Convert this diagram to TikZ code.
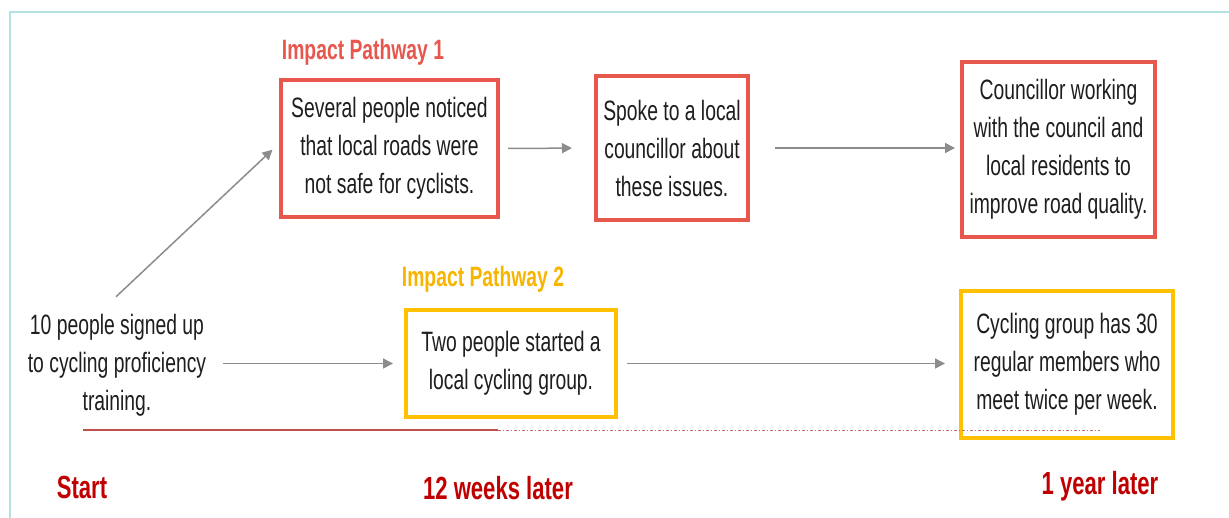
\documentclass[tikz,border=0pt]{standalone}
\usepackage{fontspec}
\setmainfont{Liberation Sans}[FakeStretch=0.69]
\usetikzlibrary{arrows.meta}
\definecolor{framecol}{HTML}{B4E1E1}
\definecolor{pathred}{HTML}{E8574D}
\definecolor{pathyellow}{HTML}{FFC000}
\definecolor{labyellow}{HTML}{F7B500}
\definecolor{darkred}{HTML}{C00000}
\definecolor{lined}{HTML}{C0504D}
\definecolor{arrgray}{HTML}{8C8C8C}
\definecolor{txt}{HTML}{1E1E1E}
\tikzset{
  body/.style={font=\fontsize{28}{38}\selectfont, text=txt, align=center, inner sep=0pt},
  redbox/.style={body, draw=pathred, line width=4pt},
  yellowbox/.style={body, draw=pathyellow, line width=4pt},
  pathlabel/.style={font=\bfseries\fontsize{28}{34}\selectfont, inner sep=0pt},
  timelabel/.style={font=\bfseries\fontsize{32}{38}\selectfont, text=darkred, inner sep=0pt},
  arr/.style={draw=arrgray, line width=1.5pt, -{Triangle[length=10pt,width=10pt]}},
}
\begin{document}
\begin{tikzpicture}[x=1pt,y=-1pt]
\useasboundingbox (0,0) rectangle (1229,517);
\clip (0,0) rectangle (1229,517);
\fill[white] (0,0) rectangle (1229,517);
% frame
\draw[framecol, line width=2pt] (10,12) rectangle (1260,560);

% pathway labels
\node[pathlabel, text=pathred] (lab1) at (363,52) {Impact Pathway 1};
\node[pathlabel, text=labyellow] (lab2) at (483,279) {Impact Pathway 2};

% boxes
\node[redbox, minimum width=217pt, minimum height=137pt] (b1) at (389.5,148.5)
  {Several people noticed\\that local roads were\\not safe for cyclists.};
\node[redbox, minimum width=152pt, minimum height=144pt] (b2) at (672,148)
  {Spoke to a local\\councillor about\\these issues.};
\node[redbox, minimum width=193pt, minimum height=175pt] (b3) at (1058.5,149.5)
  {Councillor working\\with the council and\\local residents to\\improve road quality.};
\node[yellowbox, minimum width=210pt, minimum height=107pt] (b4) at (511,363.5)
  {Two people started a\\local cycling group.};
\node[yellowbox, minimum width=212pt, minimum height=147pt] (b5) at (1067,364.5)
  {Cycling group has 30\\regular members who\\meet twice per week.};

% starting point
\node[body] (start) at (117,365)
  {10 people signed up\\to cycling proficiency\\training.};

% connectors
\draw[arr, shorten >=9pt] ([xshift=-1pt,yshift=17pt]start.north) -- ([yshift=5pt]b1.west);
\draw[arr, shorten <=8pt, shorten >=22pt] (b1.east) -- (b2.west);
\draw[arr, shorten <=25pt, shorten >=5pt] (b2.east) -- (b2.east -| b3.west);
\draw[arr, shorten <=17pt, shorten >=11pt] (start.east |- b4.west) -- (b4.west);
\draw[arr, shorten <=9pt, shorten >=14pt] (b4.east) -- (b4.east -| b5.west);

% timeline
\coordinate (t0) at (83,430);
\coordinate (t1) at (498,430);
\coordinate (t2) at (1100,430);
\draw[lined, line width=1.8pt] (t0) -- (t1);
\draw[lined!85, line width=1pt, dash pattern=on 3pt off 2pt on 1pt off 2pt] (t1) -- (t2);

\node[timelabel] (tstart) at (82,487) {Start};
\node[timelabel] (tmid) at (498,488) {12 weeks later};
\node[timelabel] (tend) at (1100,486) {1 year later};
\end{tikzpicture}
\end{document}
